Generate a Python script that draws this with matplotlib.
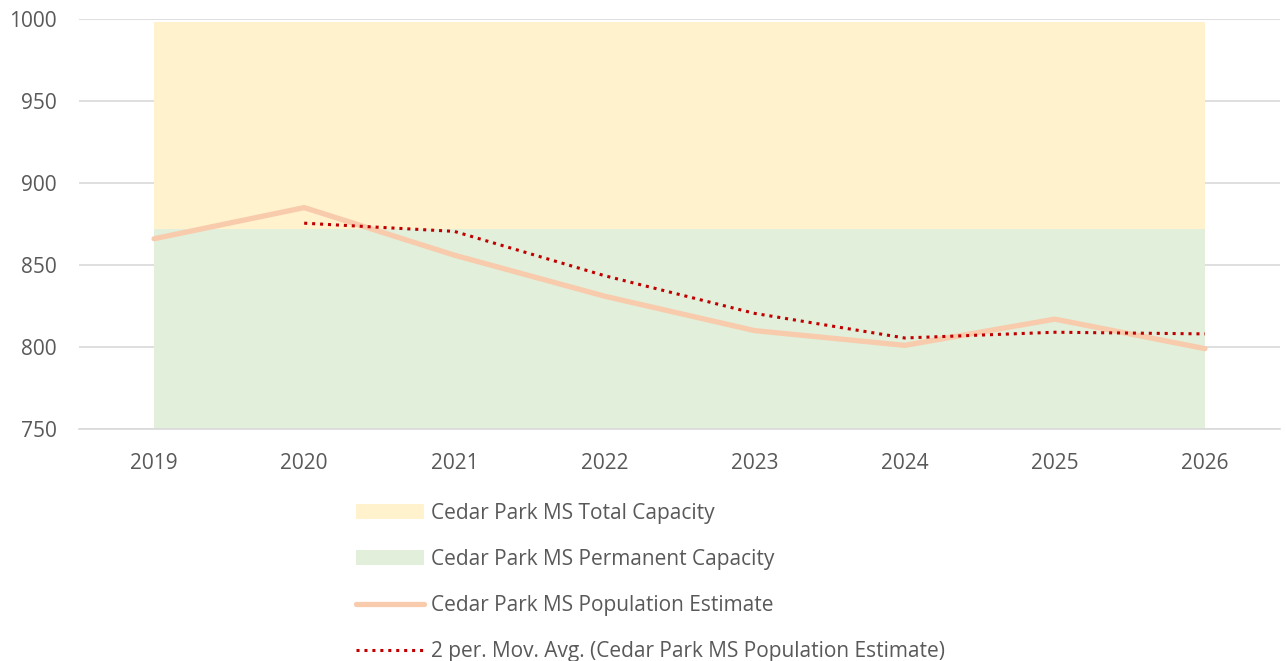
import matplotlib.pyplot as plt
from matplotlib.patches import Patch
from matplotlib.lines import Line2D

plt.rcParams['font.family'] = ['Open Sans', 'DejaVu Sans']

years = ['2019', '2020', '2021', '2022', '2023', '2024', '2025', '2026']
total_capacity = [998, 998, 998, 998, 998, 998, 998, 998]
permanent_capacity = [872, 872, 872, 872, 872, 872, 872, 872]
population = [866, 885, 856, 831, 810, 801, 817, 799]
mov_avg = [None, 875.5, 870.5, 843.5, 820.5, 805.5, 809, 808]

x = list(range(len(years)))

fig = plt.figure(figsize=(12.86, 6.61), dpi=100)
ax = fig.add_axes([79 / 1286, 1 - 429 / 661, (1280 - 79) / 1286, (429 - 19) / 661])

ax.fill_between(x, 0, total_capacity, color='#FFF2CC', lw=0, zorder=1)
ax.fill_between(x, 0, permanent_capacity, color='#E2EFDA', lw=0, zorder=2)
ax.plot(x, population, color='#F8CBAD', lw=3.8, solid_capstyle='round', zorder=3)
ma_x = [i for i, v in zip(x, mov_avg) if v is not None]
ma_y = [v for v in mov_avg if v is not None]
ax.plot(ma_x, ma_y, color='#C00000', lw=2.2, linestyle=(0, (1, 1.6)), zorder=4)

ax.set_xlim(-0.5, len(years) - 0.5)
ax.set_ylim(750, 1000)
ax.set_yticks([750, 800, 850, 900, 950, 1000])
ax.set_xticks(x)
ax.set_xticklabels(years)
ax.grid(axis='y', color='#D9D9D9', lw=1.2, zorder=0)
ax.set_axisbelow(True)
for s in ['top', 'right', 'left']:
    ax.spines[s].set_visible(False)
ax.spines['bottom'].set_color('#D9D9D9')
ax.spines['bottom'].set_linewidth(1.2)
ax.tick_params(length=0, labelsize=15, colors='#595959')
ax.tick_params(axis='x', pad=17)
ax.tick_params(axis='y', pad=16)

handles = [
    Patch(facecolor='#FFF2CC', edgecolor='none'),
    Patch(facecolor='#E2EFDA', edgecolor='none'),
    Line2D([], [], color='#F8CBAD', lw=3.8, solid_capstyle='round'),
    Line2D([], [], color='#C00000', lw=2.2, linestyle=(0, (1, 1.6))),
]
labels = [
    'Cedar Park MS Total Capacity',
    'Cedar Park MS Permanent Capacity',
    'Cedar Park MS Population Estimate',
    '2 per. Mov. Avg. (Cedar Park MS Population Estimate)',
]
leg = fig.legend(handles, labels, loc='upper left', bbox_to_anchor=(356 / 1286, 1 - 503 / 661),
                 frameon=False, fontsize=15, handlelength=3.27, handletextpad=0.34,
                 labelspacing=1.2, borderaxespad=0, borderpad=0)
for t in leg.get_texts():
    t.set_color('#595959')

fig.savefig('out.png', dpi=100)
